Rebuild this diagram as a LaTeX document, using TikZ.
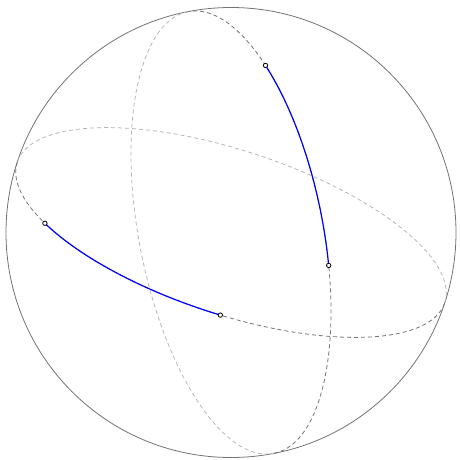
\documentclass[tikz,border=0pt]{standalone}
\begin{document}
\begin{tikzpicture}[x=1pt,y=1pt,
  sphereline/.style={draw=black!55,line width=0.8pt},
  backhalf/.style={draw=black!30,line width=0.75pt,dash pattern=on 4pt off 3pt},
  fronthalf/.style={draw=black!55,line width=0.8pt,dash pattern=on 4pt off 3pt},
  geoarc/.style={draw=blue,line width=1.2pt},
  endpt/.style={circle,draw=black,fill=white,line width=0.8pt,inner sep=0pt,minimum size=4.4pt}]
\useasboundingbox (-231,-227.5) rectangle (228,232.5);
\coordinate (O) at (0,0);
\draw[sphereline] (O) circle[radius=225pt];
% great circle 1
\begin{scope}[rotate=-18.2]
  \draw[backhalf] (225,0) arc[start angle=0,end angle=180,x radius=225pt,y radius=82pt];
  \draw[fronthalf] (-225,0) arc[start angle=180,end angle=360,x radius=225pt,y radius=82pt];
  \coordinate (a1) at ({225*cos(217)},{82*sin(217)});
  \coordinate (a2) at ({225*cos(274)},{82*sin(274)});
  \draw[geoarc] (a1) arc[start angle=217,end angle=274,x radius=225pt,y radius=82pt];
\end{scope}
% great circle 2
\begin{scope}[rotate=11]
  \draw[backhalf] (0,225) arc[start angle=90,end angle=270,x radius=92pt,y radius=225pt];
  \draw[fronthalf] (0,-225) arc[start angle=-90,end angle=90,x radius=92pt,y radius=225pt];
  \coordinate (b1) at ({92*cos(44.4)},{225*sin(44.4)});
  \coordinate (b2) at ({92*cos(-13.1)},{225*sin(-13.1)});
  \draw[geoarc] (b1) arc[start angle=44.4,end angle=-13.1,x radius=92pt,y radius=225pt];
\end{scope}
\node[endpt] (na1) at (a1) {};
\node[endpt] (na2) at (a2) {};
\node[endpt] (nb1) at (b1) {};
\node[endpt] (nb2) at (b2) {};
\end{tikzpicture}
\end{document}
